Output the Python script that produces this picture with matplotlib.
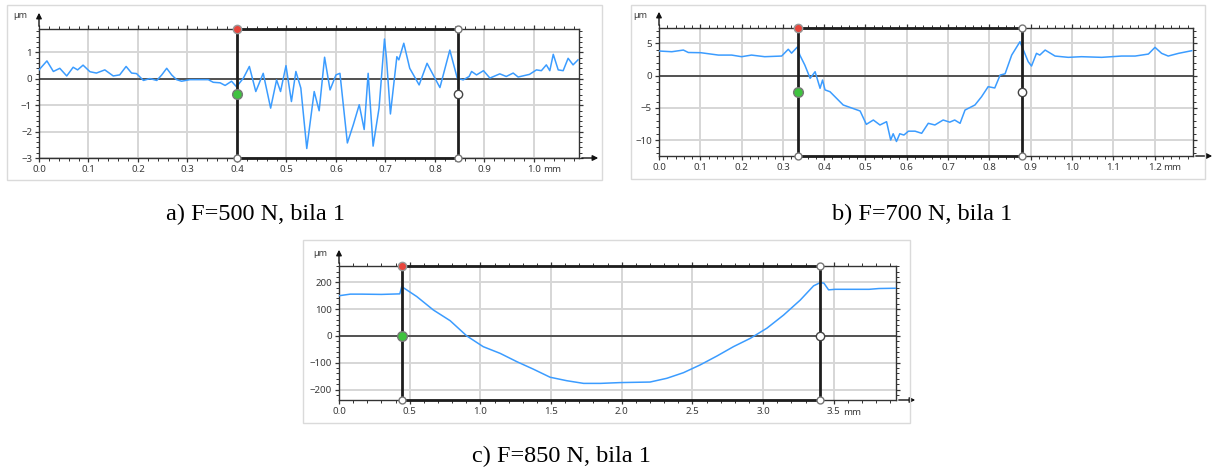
import matplotlib.pyplot as plt
from matplotlib.patches import Rectangle
from matplotlib.ticker import MultipleLocator

# profile a) F=500 N
a_x = [0.000, 0.016, 0.029, 0.042, 0.056, 0.069, 0.078, 0.089, 0.103, 0.116, 0.133, 0.150, 0.163, 0.176, 0.187,
       0.197, 0.211, 0.224, 0.238, 0.248, 0.258, 0.268, 0.278, 0.288, 0.305, 0.325, 0.342, 0.352, 0.366, 0.376,
       0.389, 0.399, 0.413, 0.425, 0.438, 0.453, 0.468, 0.480, 0.488, 0.499, 0.510, 0.519, 0.529, 0.541, 0.556,
       0.566, 0.577, 0.588, 0.600, 0.608, 0.623, 0.635, 0.647, 0.657, 0.665, 0.675, 0.687, 0.698, 0.702, 0.710,
       0.723, 0.727, 0.737, 0.749, 0.768, 0.784, 0.810, 0.830, 0.845, 0.857, 0.869, 0.874, 0.884, 0.898, 0.911,
       0.931, 0.944, 0.958, 0.968, 0.991, 1.005, 1.015, 1.025, 1.032, 1.039, 1.049, 1.059, 1.069, 1.079, 1.089]
a_y = [0.34, 0.68, 0.28, 0.40, 0.11, 0.44, 0.34, 0.52, 0.27, 0.22, 0.34, 0.11, 0.15, 0.47, 0.22,
       0.20, -0.06, 0.01, -0.06, 0.15, 0.40, 0.15, -0.03, -0.09, -0.03, -0.03, -0.03, -0.13, -0.15, -0.25,
       -0.09, -0.30, 0.03, 0.47, -0.48, 0.21, -1.11, -0.04, -0.48, 0.50, -0.86, 0.28, -0.35, -2.64, -0.48,
       -1.21, 0.82, -0.42, 0.15, 0.21, -2.43, -1.74, -0.98, -1.92, 0.21, -2.55, -1.11, 1.51, 0.78, -1.33,
       0.84, 0.72, 1.35, 0.40, -0.23, 0.59, -0.33, 1.09, 0.03, -0.04, 0.09, 0.28, 0.15, 0.31, 0.03,
       0.19, 0.09, 0.22, 0.07, 0.17, 0.34, 0.31, 0.53, 0.31, 0.93, 0.34, 0.31, 0.78, 0.53, 0.72]

# profile b) F=700 N
b_x = [0.000, 0.031, 0.059, 0.071, 0.101, 0.144, 0.176, 0.200, 0.224, 0.256, 0.297, 0.313, 0.321, 0.335, 0.341,
       0.353, 0.366, 0.378, 0.390, 0.396, 0.402, 0.414, 0.446, 0.487, 0.502, 0.519, 0.535, 0.551, 0.561, 0.567,
       0.575, 0.583, 0.593, 0.604, 0.620, 0.636, 0.652, 0.668, 0.688, 0.704, 0.716, 0.729, 0.741, 0.765, 0.781,
       0.797, 0.813, 0.826, 0.838, 0.854, 0.874, 0.894, 0.902, 0.914, 0.922, 0.935, 0.959, 0.991, 1.023, 1.072,
       1.120, 1.153, 1.185, 1.201, 1.217, 1.233, 1.258, 1.290]
b_y = [3.83, 3.72, 3.98, 3.60, 3.57, 3.20, 3.20, 2.95, 3.20, 2.95, 3.05, 4.10, 3.50, 4.45, 3.20,
       1.66, -0.40, 0.62, -1.95, -0.67, -2.20, -2.48, -4.54, -5.47, -7.54, -6.87, -7.64, -7.13, -9.97, -9.0,
       -10.2, -9.0, -9.2, -8.6, -8.6, -8.93, -7.38, -7.64, -6.87, -7.20, -6.87, -7.38, -5.32, -4.54, -3.26,
       -1.70, -1.9, 0.10, 0.30, 3.20, 5.27, 2.17, 1.50, 3.47, 3.20, 3.98, 3.05, 2.85, 2.95, 2.85,
       3.05, 3.05, 3.36, 4.40, 3.47, 3.05, 3.47, 3.88]

# profile c) F=850 N
c_x = [0.00, 0.08, 0.16, 0.30, 0.43, 0.444, 0.55, 0.667, 0.786, 0.904, 1.02, 1.14, 1.258, 1.375, 1.493,
       1.611, 1.73, 1.85, 1.99, 2.20, 2.319, 2.437, 2.555, 2.673, 2.79, 2.909, 3.027, 3.145, 3.263, 3.357,
       3.404, 3.43, 3.463, 3.51, 3.75, 3.82, 3.94]
c_y = [150, 156, 156, 155, 157, 184, 147, 97, 57, 0, -40, -65, -96, -124, -154,
       -167, -177, -177, -174, -172, -158, -137, -108, -75, -40, -9, 29, 78, 134, 187,
       199, 197, 172, 174, 174, 177, 178]

captions = ["a) F=500 N, bila 1", "b) F=700 N, bila 1", "c) F=850 N, bila 1"]
cursors = [(0.40, 0.846, -0.58), (0.336, 0.879, -2.58), (0.444, 3.40, 0.0)]

W, H = 1215, 473
fig = plt.figure(figsize=(W / 100, H / 100), dpi=100)
fig.patch.set_facecolor("white")


def px_axes(l, t, r, b):
    return fig.add_axes([l / W, 1 - b / H, (r - l) / W, (b - t) / H])


def frame(l, t, r, b):
    fig.add_artist(Rectangle((l / W, 1 - b / H), (r - l) / W, (b - t) / H, transform=fig.transFigure,
                             fill=False, ec="#dadada", lw=1))


def panel(ax, x, y, xlim, ylim, xmaj, xmin, ymaj, ymin, cur, last_tick):
    ax.set_xlim(*xlim)
    ax.set_ylim(*ylim)
    ax.xaxis.set_major_locator(MultipleLocator(xmaj))
    ax.xaxis.set_minor_locator(MultipleLocator(xmin))
    ax.yaxis.set_major_locator(MultipleLocator(ymaj))
    ax.yaxis.set_minor_locator(MultipleLocator(ymin))
    ax.grid(which="major", color="#d6d6d6", lw=1.4)
    ax.set_axisbelow(True)
    ax.tick_params(which="both", direction="out", top=True, right=True, color="#333333",
                   labelsize=7, labelcolor="#3a3a3a", pad=2)
    ax.tick_params(which="major", length=3, width=0.9)
    ax.tick_params(which="minor", length=2, width=0.7)
    for lab in ax.get_xticklabels() + ax.get_yticklabels():
        lab.set_fontfamily("Noto Sans")
    for s in ax.spines.values():
        s.set_color("#333333")
        s.set_linewidth(1.0)
    ax.axhline(0, color="#3c3c3c", lw=1.2, zorder=2)
    ax.plot(x, y, color="#3b9cff", lw=1.1, zorder=3)

    l, r, dy = cur
    y0, y1 = ylim
    ax.plot([l, l, r, r, l], [y0, y1, y1, y0, y0], color="#1e1e1e", lw=2.0, clip_on=False, zorder=4)
    ax.plot([l], [y1], "o", ms=6, mfc="#e8453c", mec="#999999", clip_on=False, zorder=5)
    ax.plot([l], [dy], "o", ms=7, mfc="#3fc23f", mec="#777777", clip_on=False, zorder=5)
    ax.plot([r], [dy], "o", ms=6, mfc="white", mec="#444444", clip_on=False, zorder=5)
    for px, py in [(l, y0), (r, y0), (r, y1)]:
        ax.plot([px], [py], "o", ms=5, mfc="white", mec="#777777", clip_on=False, zorder=5)

    ax.annotate("", xy=(0, 1), xycoords="axes fraction", xytext=(0, 19), textcoords="offset pixels",
                arrowprops=dict(arrowstyle="<|-", color="#111111", lw=1, mutation_scale=8))
    ax.annotate("", xy=(1, 0), xycoords="axes fraction", xytext=(22, 0), textcoords="offset pixels",
                arrowprops=dict(arrowstyle="<|-", color="#111111", lw=1, mutation_scale=8))
    ax.annotate("µm", xy=(0, 1), xycoords="axes fraction", xytext=(-19, 13), textcoords="offset pixels",
                ha="center", va="center", fontsize=6.5, color="#3a3a3a", family="Noto Sans")
    ax.annotate("mm", xy=(last_tick, 0), xycoords=("data", "axes fraction"), xytext=(9, -12),
                textcoords="offset pixels", ha="left", va="center", fontsize=7, color="#3a3a3a",
                family="Noto Sans")


frame(7, 5, 602, 180)
frame(631, 5, 1205, 179)
frame(303, 240, 910, 423)

ax_a = px_axes(39, 29, 579, 158)
panel(ax_a, a_x, a_y, (0, 1.091), (-3.0, 1.89), 0.1, 0.02, 1, 0.2, cursors[0], 1.0)

ax_b = px_axes(659, 28, 1193, 156)
panel(ax_b, b_x, b_y, (0, 1.293), (-12.45, 7.4), 0.1, 0.02, 5, 1, cursors[1], 1.2)

ax_c = px_axes(339, 266, 896, 400)
panel(ax_c, c_x, c_y, (0, 3.94), (-239, 261), 0.5, 0.1, 100, 20, cursors[2], 3.5)

cap_pos = [(255, 214), (922, 214), (561, 456)]
for (cx, cy), t in zip(cap_pos, captions):
    fig.text(cx / W, 1 - cy / H, t, ha="center", va="center", fontsize=17.5, family="Liberation Serif")

fig.savefig("out.png", dpi=100)
